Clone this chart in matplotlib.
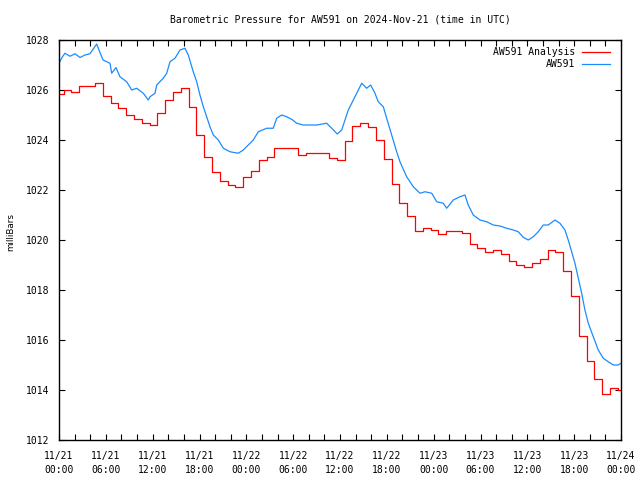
import numpy as np
import matplotlib
matplotlib.use("Agg")
import matplotlib.pyplot as plt
from matplotlib.ticker import MultipleLocator

# hourly analysis values (step changes about 0.6 h past each hour)
analysis_hour = list(range(73))
analysis_mb = [1025.83, 1026.0, 1025.9, 1026.17, 1026.17, 1026.27, 1025.77, 1025.5, 1025.28, 1025.0,
               1024.84, 1024.68, 1024.6, 1025.08, 1025.6, 1025.93, 1026.08, 1025.33, 1024.2, 1023.33,
               1022.72, 1022.36, 1022.2, 1022.13, 1022.53, 1022.75, 1023.2, 1023.33, 1023.7, 1023.7,
               1023.7, 1023.4, 1023.47, 1023.47, 1023.47, 1023.3, 1023.2, 1023.96, 1024.56, 1024.68,
               1024.52, 1024.0, 1023.24, 1022.24, 1021.47, 1020.96, 1020.36, 1020.5, 1020.4, 1020.24,
               1020.36, 1020.36, 1020.27, 1019.83, 1019.67, 1019.52, 1019.6, 1019.43, 1019.16, 1018.99,
               1018.92, 1019.07, 1019.24, 1019.6, 1019.51, 1018.75, 1017.76, 1016.16, 1015.16, 1014.43,
               1013.84, 1014.07, 1014.0]

# station readings, hours since 11/21 00:00
obs_hour = [0, 0.38, 0.77, 1.41, 2.05, 2.69, 3.33, 3.97, 4.83, 5.25, 5.64, 6.53, 6.75, 7.30, 7.81,
            8.67, 9.31, 9.95, 10.80, 11.44, 11.66, 12.30, 12.52, 13.36, 13.80, 14.22, 14.86, 15.50,
            16.14, 16.56, 17.20, 17.64, 18.06, 18.49, 18.92, 19.34, 19.77, 20.41, 21.05, 21.91, 22.97,
            23.61, 24.25, 24.89, 25.53, 26.61, 27.45, 27.89, 28.53, 29.17, 29.81, 30.45, 31.30, 33.01,
            34.29, 34.93, 35.65, 36.22, 36.64, 37.06, 37.50, 38.14, 38.78, 39.42, 39.93, 40.48, 40.90,
            41.55, 41.98, 42.62, 43.26, 43.68, 44.54, 45.39, 46.25, 46.89, 47.75, 48.39, 49.23, 49.67,
            50.51, 51.37, 52.01, 52.43, 53.07, 53.93, 54.79, 55.64, 56.50, 57.35, 58.20, 58.84, 59.48,
            60.12, 60.76, 61.40, 62.04, 62.68, 63.54, 64.18, 64.82, 65.24, 65.68, 66.10, 66.53, 66.96,
            67.38, 67.81, 68.45, 69.09, 69.73, 70.37, 71.01, 71.65, 72.0]
obs_mb = [1027.07, 1027.3, 1027.47, 1027.35, 1027.45, 1027.3, 1027.4, 1027.45, 1027.84, 1027.5,
          1027.2, 1027.07, 1026.67, 1026.9, 1026.53, 1026.33, 1026.0, 1026.07, 1025.87, 1025.6,
          1025.73, 1025.87, 1026.2, 1026.47, 1026.67, 1027.13, 1027.27, 1027.6, 1027.67, 1027.4,
          1026.73, 1026.33, 1025.8, 1025.33, 1024.93, 1024.53, 1024.2, 1024.0, 1023.67, 1023.53,
          1023.47, 1023.6, 1023.8, 1024.0, 1024.33, 1024.47, 1024.47, 1024.87, 1025.0, 1024.93,
          1024.83, 1024.67, 1024.6, 1024.6, 1024.67, 1024.47, 1024.24, 1024.4, 1024.8, 1025.2,
          1025.47, 1025.87, 1026.27, 1026.07, 1026.2, 1025.87, 1025.53, 1025.33, 1024.87, 1024.2,
          1023.53, 1023.13, 1022.53, 1022.13, 1021.87, 1021.93, 1021.87, 1021.53, 1021.47, 1021.27,
          1021.6, 1021.73, 1021.8, 1021.4, 1021.0, 1020.8, 1020.73, 1020.6, 1020.56, 1020.47,
          1020.4, 1020.33, 1020.11, 1020.0, 1020.13, 1020.33, 1020.6, 1020.6, 1020.8, 1020.67,
          1020.4, 1020.0, 1019.53, 1019.07, 1018.47, 1017.87, 1017.2, 1016.67, 1016.13, 1015.6,
          1015.27, 1015.13, 1015.0, 1015.0, 1015.07]

tick_hours = list(range(0, 73, 6))
tick_labels = ["11/21\n00:00", "11/21\n06:00", "11/21\n12:00", "11/21\n18:00",
               "11/22\n00:00", "11/22\n06:00", "11/22\n12:00", "11/22\n18:00",
               "11/23\n00:00", "11/23\n06:00", "11/23\n12:00", "11/23\n18:00",
               "11/24\n00:00"]

plt.rcParams['font.family'] = 'DejaVu Sans Mono'
plt.rcParams['font.size'] = 7

fig = plt.figure(figsize=(6.4, 4.8), dpi=100)
ax = fig.add_axes([59/640, 40/480, 562/640, 400/480])

# step edges sit ~0.4 h before each hour, first interval starts at 0
edges = [0] + [h + 0.6 for h in analysis_hour[:-1]] + [72]
vals = analysis_mb + [analysis_mb[-1]]
ax.step(edges, vals, where='post', color='#ff0000', lw=0.9, label='AW591 Analysis')
ax.plot(obs_hour, obs_mb, color='#1a8cff', lw=0.9, label='AW591')

ax.set_xlim(0, 72)
ax.set_ylim(1012, 1028)
ax.set_xticks(tick_hours)
ax.set_xticklabels(tick_labels, linespacing=1.45)
ax.xaxis.set_minor_locator(MultipleLocator(2))
ax.yaxis.set_major_locator(MultipleLocator(2))
ax.tick_params(which='both', direction='in', top=True, right=True, width=0.8, length=4)
ax.tick_params(axis='x', pad=8)
ax.tick_params(axis='y', pad=7)
for s in ax.spines.values():
    s.set_linewidth(1.0)

ax.set_ylabel('milliBars', family='DejaVu Sans', fontsize=6.3)
ax.yaxis.set_label_coords(-0.078, 0.52)
fig.text(340/640, 1 - 20/480, 'Barometric Pressure for AW591 on 2024-Nov-21 (time in UTC)',
         ha='center', va='center')

leg = ax.legend(loc='upper right', bbox_to_anchor=(0.986, 0.99), frameon=False,
                markerfirst=False, handlelength=2.9, handletextpad=0.7,
                labelspacing=0.25, borderaxespad=0, borderpad=0.3)
for col in leg._legend_handle_box.get_children():
    col.align = 'right'

fig.savefig('out.png', dpi=100)
